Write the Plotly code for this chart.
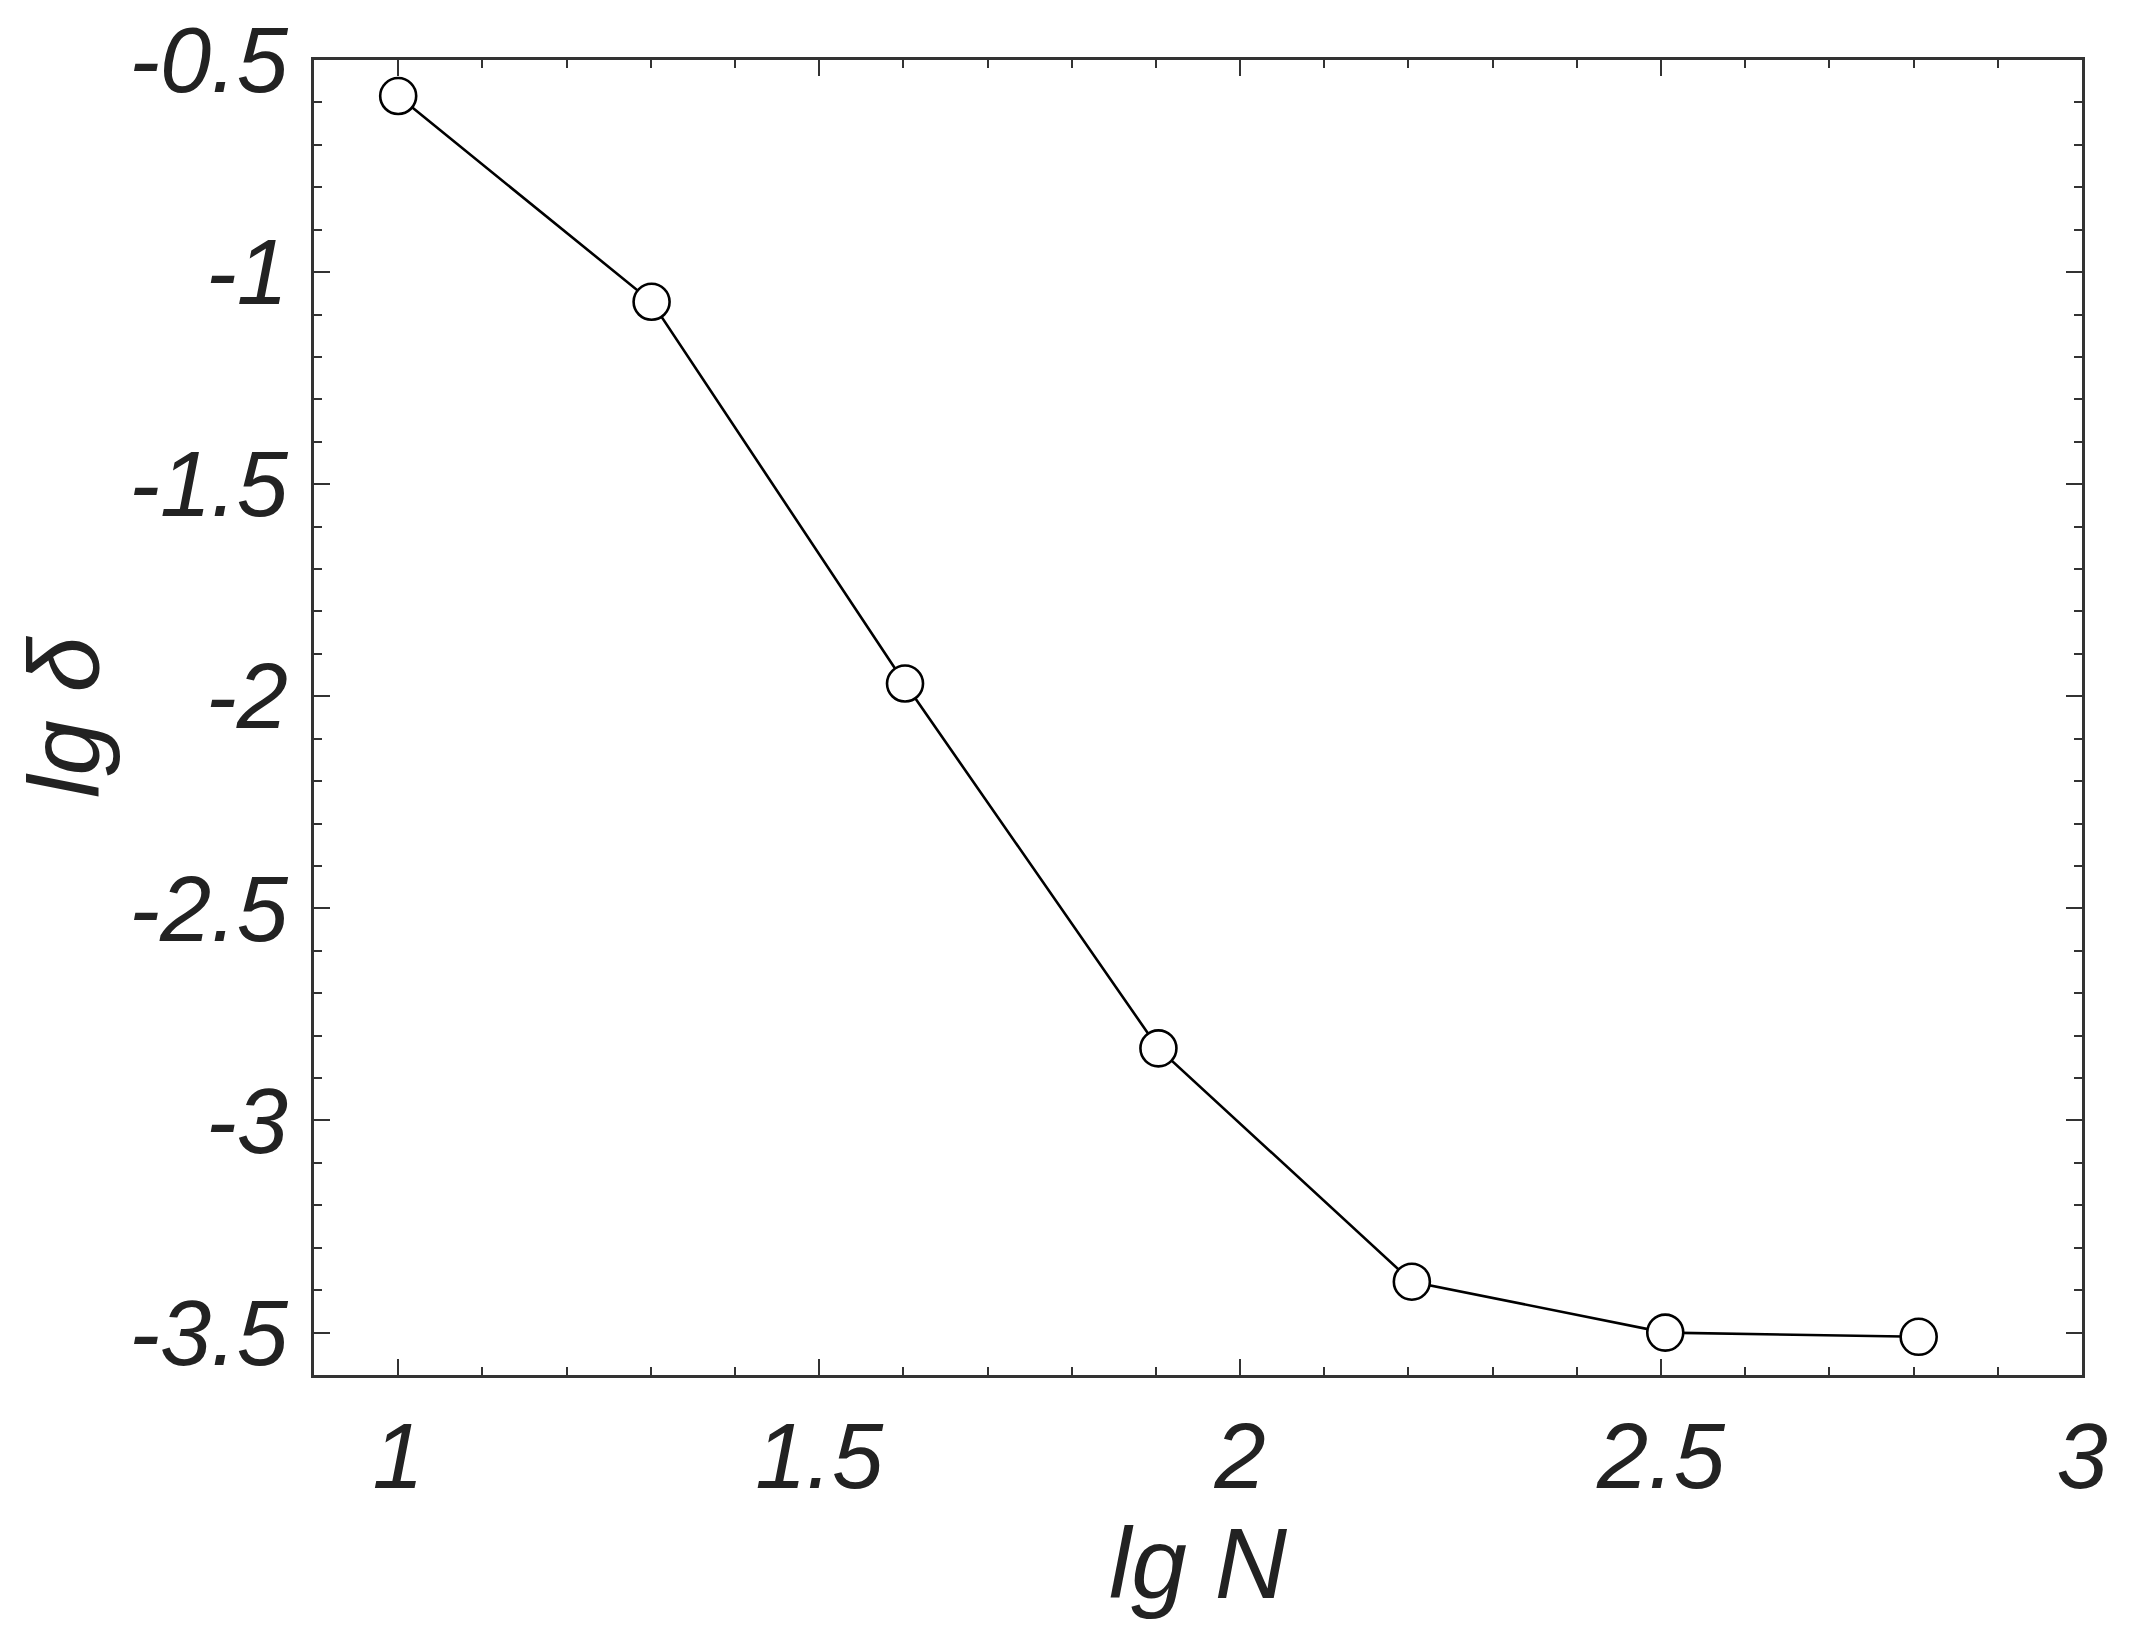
import plotly.graph_objects as go

# data (lg N vs lg delta)
lg_n = [1.0, 1.301, 1.602, 1.903, 2.204, 2.505, 2.806]
lg_delta = [-0.585, -1.07, -1.97, -2.83, -3.38, -3.50, -3.51]

x_ticks = [1, 1.5, 2, 2.5, 3]
y_ticks = [-0.5, -1, -1.5, -2, -2.5, -3, -3.5]

FONT = "Liberation Sans, Arial, sans-serif"
AXIS_COLOR = "#333333"

fig = go.Figure(
    go.Scatter(
        x=lg_n,
        y=lg_delta,
        mode="lines+markers",
        line=dict(color="black", width=2.6),
        marker=dict(size=36, color="white", symbol="circle",
                    line=dict(color="black", width=2.6)),
        showlegend=False,
    )
)

common = dict(
    showgrid=False,
    zeroline=False,
    showline=True,
    automargin=False,
    linecolor=AXIS_COLOR,
    linewidth=2.5,
    mirror="allticks",
    ticks="inside",
    ticklen=16,
    tickwidth=2,
    tickcolor=AXIS_COLOR,
    ticklabeloverflow="allow",
    tickfont=dict(family=FONT, size=92, color="#222", style="italic"),
    minor=dict(ticks="inside", ticklen=8, tickwidth=1.5, tickcolor=AXIS_COLOR, dtick=0.1, showgrid=False),
)

fig.update_layout(
    width=2134,
    height=1651,
    margin=dict(l=306, r=60, t=52, b=284),
    plot_bgcolor="white",
    paper_bgcolor="white",
    xaxis=dict(
        range=[0.9, 3.0],
        tickvals=x_ticks,
        ticktext=[str(v) for v in x_ticks],
        ticklabelstandoff=0,
        title=dict(text="lg N", font=dict(family=FONT, size=100, color="#222", style="italic"), standoff=10),
        **common,
    ),
    yaxis=dict(
        range=[-3.6, -0.5],
        tickvals=y_ticks,
        ticktext=[str(v) for v in y_ticks],
        ticklabelstandoff=5,
        title=dict(text="lg δ", font=dict(family=FONT, size=100, color="#222", style="italic"), standoff=24),
        **common,
    ),
)

fig.write_html("out.html")
